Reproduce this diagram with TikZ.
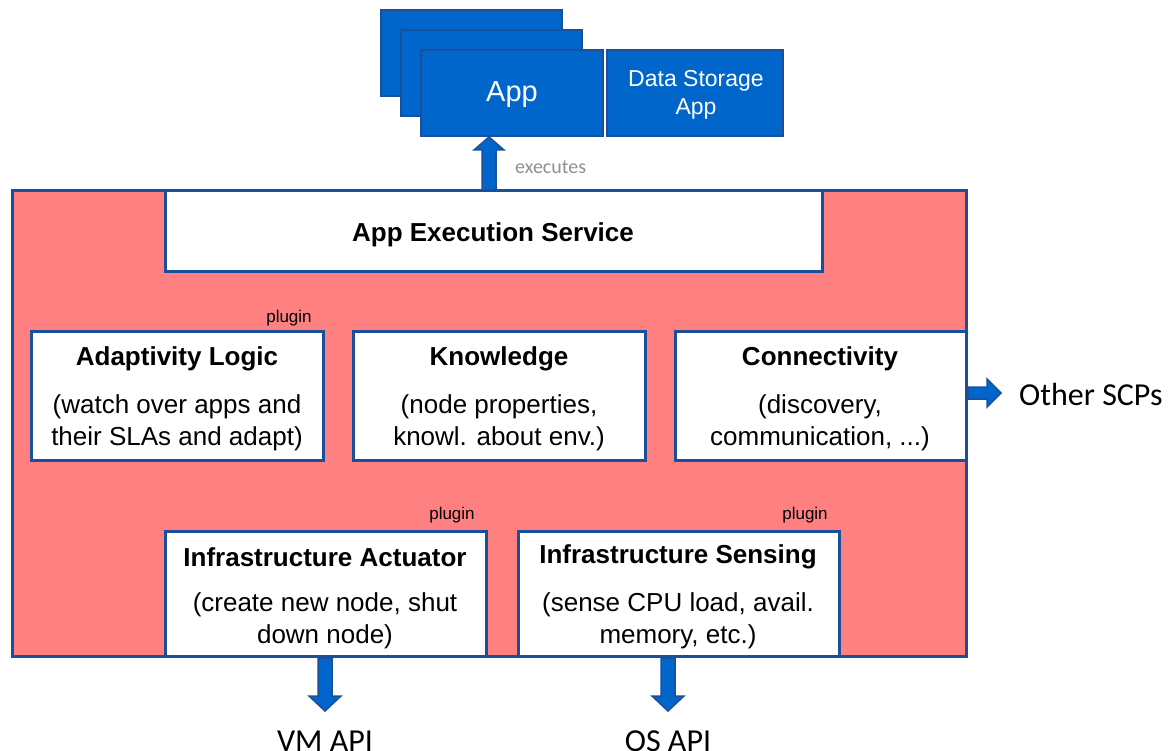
\documentclass[tikz,border=0pt]{standalone}
\usepackage{fontspec}
\setmainfont{Liberation Sans}
\newfontfamily\calfont{Carlito}
\definecolor{scpred}{HTML}{FF8080}
\definecolor{appblue}{HTML}{0066CC}
\definecolor{edgeblue}{HTML}{1A4F9C}
\definecolor{labgrey}{HTML}{909090}
\tikzset{
  panel/.style={draw=edgeblue, line width=3pt, fill=white},
  appbox/.style={draw=edgeblue, line width=2.5pt, fill=appblue},
  fatarrow/.style={draw=edgeblue, line width=1.5pt, fill=appblue, line join=miter},
  ttl/.style={font=\fontsize{26}{30}\selectfont\bfseries, inner sep=0pt},
  dsc/.style={font=\fontsize{26}{32}\selectfont, align=center, inner sep=0pt},
  plug/.style={font=\fontsize{17}{20}\selectfont, inner sep=0pt},
  ext/.style={font=\calfont\fontsize{32}{36}\selectfont, inner sep=0pt}
}
\begin{document}
\begin{tikzpicture}[x=1pt,y=-1pt]
\useasboundingbox (0,0) rectangle (1175,751);
% apps
\draw[appbox] (381,10) rectangle (562,96);
\draw[appbox] (401,30) rectangle (582,116);
\draw[appbox] (421,50) rectangle (603,136);
\node[text=white, font=\fontsize{29}{32}\selectfont, inner sep=0pt] (app) at (512,95) {App};
\draw[appbox] (607,50) rectangle (783,136);
\node[text=white, font=\fontsize{23}{28}\selectfont, align=center, inner sep=0pt] (dsa) at (696,95) {Data Storage\\App};
% main SCP box
\draw[draw=edgeblue, line width=3pt, fill=scpred] (12,191) rectangle (966,656);
\draw[panel] (165,191) rectangle (822,272);
\node[ttl] (aes) at (493,235) {App Execution Service};
% arrow up
\filldraw[fatarrow] (482,190) -- (482,150) -- (474,150) -- (489,137) -- (504,150) -- (496,150) -- (496,190) -- cycle;
\node[font=\calfont\fontsize{20}{22}\selectfont, text=labgrey, anchor=west, inner sep=0pt] (exe) at (515,167) {executes};
% middle row
\draw[panel] (31,331) rectangle (323,460);
\node[ttl] (al) at (177,359) {Adaptivity Logic};
\node[dsc] (ald) at (177,423) {(watch over apps and\\their SLAs and adapt)};
\node[plug] (p1) at (289,318) {plugin};
\draw[panel] (353,331) rectangle (645,460);
\node[ttl] (kn) at (499,359) {Knowledge};
\node[dsc] (knd) at (499,423) {(node properties,\\knowl. about env.)};
\draw[panel] (675,331) rectangle (966,460);
\node[ttl] (co) at (820,359) {Connectivity};
\node[dsc] (cod) at (820,423) {(discovery,\\communication, ...)};
% bottom row
\draw[panel] (165,531) rectangle (486,656);
\node[ttl] (ia) at (325,557) {Infrastructure Actuator};
\node[dsc] (iad) at (325,621) {(create new node, shut\\down node)};
\node[plug] (p2) at (452,515) {plugin};
\draw[panel] (518,531) rectangle (839,656);
\node[ttl] (is) at (678,557) {Infrastructure Sensing};
\node[dsc] (isd) at (678,621) {(sense CPU load, avail.\\memory, etc.)};
\node[plug] (p3) at (805,515) {plugin};
% right arrow
\filldraw[fatarrow] (968,387) -- (987,387) -- (987,379) -- (1001,393) -- (987,407) -- (987,399) -- (968,399) -- cycle;
\node[ext, anchor=west] (oth) at (1019,395) {Other SCPs};
% down arrows
\filldraw[fatarrow] (318,658) -- (318,696) -- (309,696) -- (325,711) -- (341,696) -- (332,696) -- (332,658) -- cycle;
\node[ext] (vm) at (325,741) {VM API};
\filldraw[fatarrow] (661,658) -- (661,696) -- (652,696) -- (668,711) -- (684,696) -- (675,696) -- (675,658) -- cycle;
\node[ext] (os) at (668,741) {OS API};
\end{tikzpicture}
\end{document}
